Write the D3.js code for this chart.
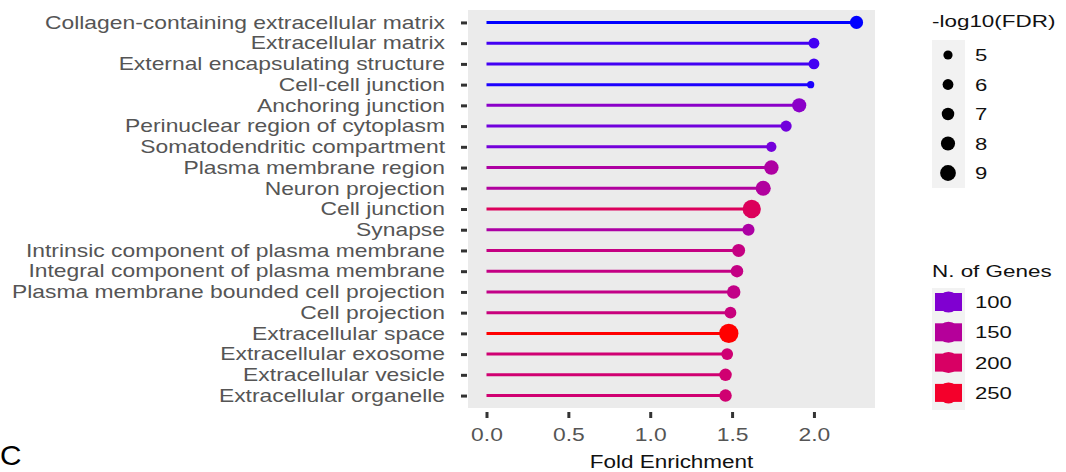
<!DOCTYPE html>
<html>
<head>
<meta charset="utf-8">
<script src="https://cdn.jsdelivr.net/npm/d3@7"></script>
<style>
  html, body { margin: 0; padding: 0; background: #fff; }
  svg { display: block; font-family: "Liberation Sans", Arial, Helvetica, sans-serif; }
</style>
</head>
<body>
<svg id="chart" width="1066" height="472"></svg>
<script>
// GO cellular component terms, top to bottom
const terms = [
  "Collagen-containing extracellular matrix",
  "Extracellular matrix",
  "External encapsulating structure",
  "Cell-cell junction",
  "Anchoring junction",
  "Perinuclear region of cytoplasm",
  "Somatodendritic compartment",
  "Plasma membrane region",
  "Neuron projection",
  "Cell junction",
  "Synapse",
  "Intrinsic component of plasma membrane",
  "Integral component of plasma membrane",
  "Plasma membrane bounded cell projection",
  "Cell projection",
  "Extracellular space",
  "Extracellular exosome",
  "Extracellular vesicle",
  "Extracellular organelle"
];
const foldEnrichment = [2.26, 2.00, 2.00, 1.98, 1.91, 1.83, 1.74, 1.74, 1.69, 1.62, 1.60, 1.54, 1.53, 1.51, 1.49, 1.48, 1.47, 1.46, 1.46];
const negLog10FDR   = [7.4, 6.0, 6.0, 3.8, 8.0, 6.2, 5.6, 8.2, 8.6, 10.5, 6.8, 7.3, 7.0, 7.6, 6.6, 11.1, 6.6, 7.0, 7.0];
const nGenes        = [60, 70, 70, 62, 108, 90, 92, 142, 146, 208, 140, 172, 170, 167, 176, 272, 186, 188, 188];

const xTicks = [0, 0.5, 1.0, 1.5, 2.0];
const sizeBreaks = [5, 6, 7, 8, 9];
const geneBreaks = [100, 150, 200, 250];

const svg = d3.select("#chart");
const panel = { left: 468, right: 875, top: 10, bottom: 408 };
const stretch = 1.27; // horizontal widening of the lettering

const x = d3.scaleLinear().domain([-0.113, 2.373]).range([panel.left, panel.right]);
const y = d3.scalePoint().domain(terms).range([panel.top, panel.bottom]).padding(0.6);
const r = d3.scaleLinear().domain([5, 9]).range([4.6, 7.9]);
const color = d3.scaleLinear()
  .domain([d3.min(nGenes), d3.max(nGenes)])
  .range(["#0000ff", "#ff0000"])
  .interpolate(d3.interpolateLab);

// place a widened text label at (px, py)
function label(parent, px, py, txt, size, opts = {}) {
  return parent.append("text")
    .attr("transform", `translate(${px},${py}) scale(${opts.sx || stretch},1)`)
    .attr("text-anchor", opts.anchor || "start")
    .attr("dy", opts.dy || null)
    .attr("fill", opts.fill || "#000")
    .style("font-size", size + "px")
    .text(txt);
}

// panel background
svg.append("rect")
  .attr("x", panel.left).attr("y", panel.top)
  .attr("width", panel.right - panel.left).attr("height", panel.bottom - panel.top)
  .attr("fill", "#ebebeb");

const rows = terms.map((t, i) => ({ term: t, fe: foldEnrichment[i], fdr: negLog10FDR[i], n: nGenes[i] }));

// lollipop stems
svg.append("g").selectAll("line").data(rows).join("line")
  .attr("x1", x(0)).attr("x2", d => x(d.fe))
  .attr("y1", d => y(d.term)).attr("y2", d => y(d.term))
  .attr("stroke", d => color(d.n))
  .attr("stroke-width", 3);

// lollipop heads
svg.append("g").selectAll("circle").data(rows).join("circle")
  .attr("cx", d => x(d.fe)).attr("cy", d => y(d.term))
  .attr("r", d => r(d.fdr))
  .attr("fill", d => color(d.n));

// y axis
const yAxis = svg.append("g")
  .attr("transform", `translate(${panel.left},0)`)
  .call(d3.axisLeft(y).tickSize(7));
yAxis.select(".domain").remove();
yAxis.selectAll(".tick line").attr("stroke", "#333").attr("stroke-width", 3).attr("x2", -1).attr("x1", -7);
yAxis.selectAll(".tick text")
  .attr("fill", "#555").style("font-size", "18px")
  .attr("x", -23 / stretch)
  .attr("transform", `scale(${stretch},1)`);

// x axis
const xAxis = svg.append("g")
  .attr("transform", `translate(0,${panel.bottom})`)
  .call(d3.axisBottom(x).tickValues(xTicks).tickFormat(d3.format(".1f")).tickSize(0));
xAxis.select(".domain").remove();
xAxis.selectAll(".tick line").attr("stroke", "#333").attr("stroke-width", 3).attr("y1", 4).attr("y2", 10);
xAxis.selectAll(".tick text")
  .attr("fill", "#555").style("font-size", "18px")
  .attr("y", 20).attr("dy", "0.71em")
  .attr("transform", `scale(${stretch},1)`);

label(svg, (panel.left + panel.right) / 2, 468, "Fold Enrichment", 18, { anchor: "middle", sx: 1.25, fill: "#111" });

// size legend
const sizeLeg = svg.append("g");
label(sizeLeg, 932, 27, "-log10(FDR)", 17, { sx: 1.32, fill: "#111" });
sizeLeg.append("rect").attr("x", 932).attr("y", 40).attr("width", 33).attr("height", 148).attr("fill", "#f2f2f2");
sizeLeg.selectAll("circle").data(sizeBreaks).join("circle")
  .attr("cx", 948).attr("cy", (d, i) => 55 + i * 29.5)
  .attr("r", d => r(d)).attr("fill", "#000");
sizeBreaks.forEach((b, i) => label(sizeLeg, 975, 55 + i * 29.5, b, 17, { dy: "0.36em", sx: 1.3, fill: "#111" }));

// colour legend
const colLeg = svg.append("g");
label(colLeg, 932, 277, "N. of Genes", 17, { sx: 1.32, fill: "#111" });
colLeg.append("rect").attr("x", 932).attr("y", 288).attr("width", 33).attr("height", 122).attr("fill", "#f2f2f2");
geneBreaks.forEach((g, i) => {
  const cy = 302 + i * 30.3;
  colLeg.append("rect").attr("x", 935).attr("y", cy - 9).attr("width", 27).attr("height", 18).attr("fill", color(g));
  colLeg.append("circle").attr("cx", 948.5).attr("cy", cy).attr("r", 10.5).attr("fill", color(g));
  label(colLeg, 975, cy, g, 17, { dy: "0.36em", sx: 1.3, fill: "#111" });
});

// panel tag
label(svg, 0, 465, "C", 27, { sx: 1.1 });
</script>
</body>
</html>
